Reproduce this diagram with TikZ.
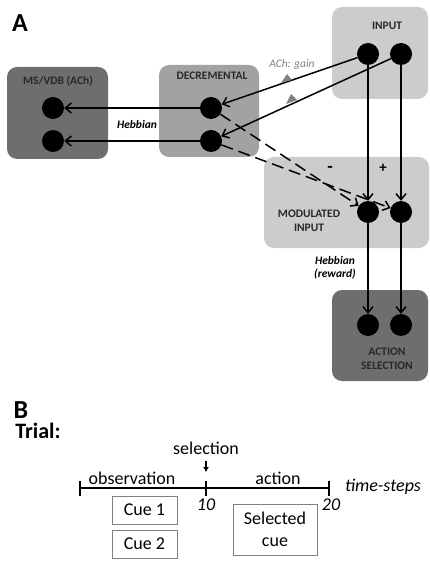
\documentclass[tikz,border=0pt]{standalone}
\usepackage{fontspec}
\setmainfont{Carlito}
\usepackage{xcolor}
\usetikzlibrary{arrows.meta,positioning}

\definecolor{darkbox}{RGB}{110,110,110}
\definecolor{midbox}{RGB}{162,162,162}
\definecolor{lightbox}{RGB}{204,204,204}
\definecolor{labelgray}{RGB}{40,40,40}

\tikzset{
  region/.style={rounded corners=10pt, inner sep=0pt},
  unit/.style={circle, fill=black, minimum size=22pt, inner sep=0pt},
  conn/.style={-{Straight Barb[length=6pt,width=10pt]}, line width=1.5pt},
  regionlabel/.style={font=\fontsize{11.5}{13.5}\selectfont\bfseries, text=labelgray, align=center, inner sep=0pt},
  weightlabel/.style={font=\fontsize{11.5}{13.5}\selectfont\bfseries\itshape, align=center, inner sep=0pt},
  timetext/.style={font=\fontsize{18}{22}\selectfont, inner sep=0pt},
  cuebox/.style={draw=gray, line width=1pt, font=\fontsize{18}{22}\selectfont, align=center, inner sep=0pt},
}

\begin{document}
\begin{tikzpicture}[x=1pt, y=-1pt] % {{{
  \useasboundingbox (0,0) rectangle (430,561);

  % Panel A {{{
  \node[font=\fontsize{26}{26}\selectfont\bfseries, inner sep=0pt] (panelA) at (20,23) {A};

  % regions
  \node[region, fill=darkbox, minimum width=101pt, minimum height=92pt] (msvdb) at (57.5,113) {};
  \node[region, fill=midbox, minimum width=100pt, minimum height=92pt] (decr) at (209,111) {};
  \node[region, fill=lightbox, minimum width=96pt, minimum height=92pt] (input) at (380,53) {};
  \node[region, fill=lightbox, minimum width=165pt, minimum height=91pt] (modin) at (346.5,202.5) {};
  \node[region, fill=darkbox, minimum width=96pt, minimum height=91pt] (actsel) at (380,335.5) {};

  \node[regionlabel] (msvdblabel) at (58,81) {MS/VDB (ACh)};
  \node[regionlabel] (decrlabel) at (212,76) {DECREMENTAL};
  \node[regionlabel] (inputlabel) at (387,26) {INPUT};
  \node[regionlabel] (modinlabel) at (309,221) {MODULATED\\INPUT};
  \node[regionlabel] (actsellabel) at (387,359) {ACTION\\SELECTION};

  % units
  \foreach \i/\y in {1/108,2/141} {
    \node[unit] (ms\i) at (53,\y) {};
    \node[unit] (dec\i) at (211,\y) {};
  }
  \foreach \i/\x in {1/368,2/401} {
    \node[unit] (in\i) at (\x,54) {};
    \node[unit] (mod\i) at (\x,212) {};
    \node[unit] (act\i) at (\x,325) {};
  }

  % connections
  \draw[conn] (in1) -- (dec1);
  \draw[conn] (in2) -- (dec2);
  \foreach \i in {1,2} {
    \draw[conn] (dec\i) -- (ms\i);
    \draw[conn] (in\i) -- (mod\i);
    \draw[conn] (mod\i) -- (act\i);
    \draw[conn, dash pattern=on 12pt off 6pt] (dec\i) -- (mod\i);
  }

  % ACh gain markers
  \fill[gray] (281,83) -- (292,80) -- (287,74) -- cycle;
  \fill[gray] (286,104) -- (297,100) -- (291,94) -- cycle;

  \node[weightlabel, font=\fontsize{11.5}{13.5}\selectfont\itshape, text=gray] (achgain) at (292,64) {ACh: gain};
  \node[weightlabel] (hebb) at (137,125) {Hebbian};
  \node[weightlabel] (hebbrew) at (335,268) {Hebbian\\(reward)};
  \node[font=\fontsize{18}{18}\selectfont\bfseries, inner sep=0pt] (minus) at (330,169) {-};
  \node[font=\fontsize{15}{15}\selectfont\bfseries, inner sep=0pt] (plus) at (383,168) {+};
  % }}}

  % Panel B {{{
  \node[font=\fontsize{26}{26}\selectfont\bfseries, inner sep=0pt] (panelB) at (21,410) {B};
  \node[font=\fontsize{22}{22}\selectfont\bfseries, inner sep=0pt] (trial) at (38,431) {Trial:};

  \coordinate (t0) at (80,488);
  \coordinate (t10) at (206,488);
  \coordinate (t20) at (329,488);
  \draw[line width=1.2pt] (t0) -- (t20);
  \foreach \t in {t0,t10,t20} {
    \draw[line width=1.2pt] ([yshift=7.5pt]\t) -- ([yshift=-7.5pt]\t);
  }

  \node[timetext] (sel) at (206,448) {selection};
  \coordinate (selarrow) at (206,461);
  \draw[-{Latex[length=5pt,width=6pt]}, line width=1.2pt] (selarrow) -- (t10 |- 0,472);
  \node[timetext] (obs) at (132,478) {observation};
  \node[timetext] (act) at (278,478) {action};
  \node[timetext, font=\fontsize{18}{22}\selectfont\itshape] (steps) at (383,487) {time-steps};
  \node[timetext, font=\fontsize{18}{22}\selectfont\itshape] (ten) at (206,505) {10};
  \node[timetext, font=\fontsize{18}{22}\selectfont\itshape] (twenty) at (331,505) {20};

  \node[cuebox, minimum width=65pt, minimum height=28pt] (cue1) at (144.5,510) {Cue 1};
  \node[cuebox, minimum width=65pt, minimum height=28pt] (cue2) at (144.5,544) {Cue 2};
  \node[cuebox, minimum width=84pt, minimum height=51pt] (selcue) at (275,529.5) {Selected\\cue};
  % }}}
\end{tikzpicture} % }}}
\end{document}
